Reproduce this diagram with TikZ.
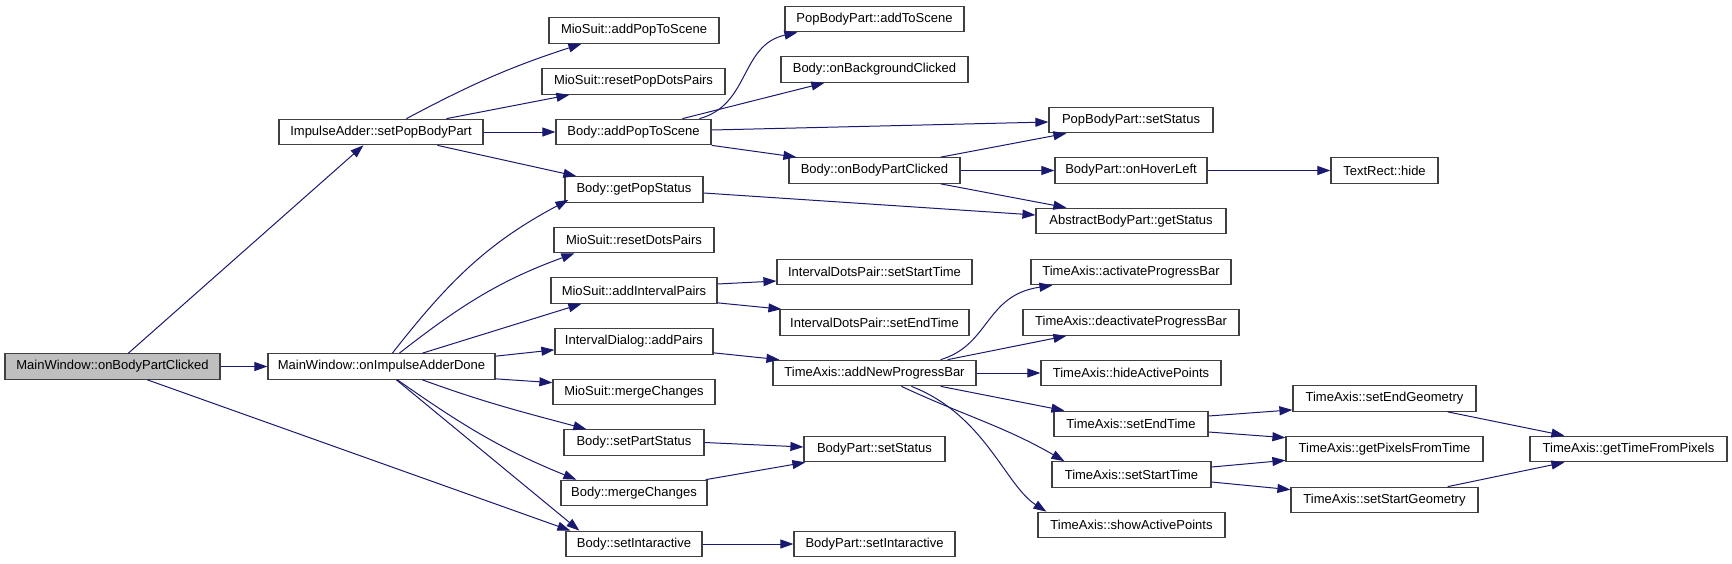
\documentclass[tikz,border=0pt]{standalone}
\usepackage{fontspec}
\setmainfont{Liberation Sans}
\usepackage{tikz}
\usetikzlibrary{arrows.meta}
\definecolor{edgeblue}{HTML}{191970}
\definecolor{boxgrey}{HTML}{BFBFBF}
\definecolor{boxline}{HTML}{404040}
\tikzset{
    fnbox/.style={rectangle, draw=boxline, line width=1.2pt, fill=white, minimum height=25.5pt, inner sep=0pt, text centered, font=\fontsize{13}{15}\selectfont},
    rootbox/.style={fnbox, fill=boxgrey},
    callarrow/.style={line width=1pt, color=edgeblue, -{Triangle[length=13pt,width=9pt]}}
}

\begin{document}
\begin{tikzpicture}[x=1pt, y=1pt]
    \useasboundingbox (0,0) rectangle (1732,-563);

    % caller and first level
    \node[rootbox, minimum width=215pt] (mwClicked) at (112.5,-366.5) {MainWindow::onBodyPartClicked};
    \node[fnbox, minimum width=204pt] (setPop) at (381,-132) {ImpulseAdder::setPopBodyPart};
    \node[fnbox, minimum width=227pt] (adderDone) at (381.5,-366.5) {MainWindow::onImpulseAdderDone};

    % second column
    \node[fnbox, minimum width=170pt] (msAddPop) at (634,-30.5) {MioSuit::addPopToScene};
    \node[fnbox, minimum width=183pt] (msResetPop) at (633.5,-81.5) {MioSuit::resetPopDotsPairs};
    \node[fnbox, minimum width=155pt] (bAddPop) at (633.5,-132) {Body::addPopToScene};
    \node[fnbox, minimum width=138pt] (bGetPop) at (634,-189.5) {Body::getPopStatus};
    \node[fnbox, minimum width=160pt] (msResetDots) at (634,-240) {MioSuit::resetDotsPairs};
    \node[fnbox, minimum width=166pt] (msAddInt) at (634,-290.5) {MioSuit::addIntervalPairs};
    \node[fnbox, minimum width=158pt] (idAdd) at (634,-341.5) {IntervalDialog::addPairs};
    \node[fnbox, minimum width=162pt] (msMerge) at (634,-392) {MioSuit::mergeChanges};
    \node[fnbox, minimum width=140pt] (bSetPart) at (634,-442.5) {Body::setPartStatus};
    \node[fnbox, minimum width=146pt] (bMerge) at (634,-493) {Body::mergeChanges};
    \node[fnbox, minimum width=136pt] (bSetInt) at (634,-544) {Body::setIntaractive};

    % third column
    \node[fnbox, minimum width=179pt] (pbAddScene) at (874.5,-19) {PopBodyPart::addToScene};
    \node[fnbox, minimum width=187pt] (bBgClicked) at (874.5,-69.5) {Body::onBackgroundClicked};
    \node[fnbox, minimum width=171pt] (bBpClicked) at (874.5,-170.5) {Body::onBodyPartClicked};
    \node[fnbox, minimum width=195pt] (idpStart) at (874.5,-272) {IntervalDotsPair::setStartTime};
    \node[fnbox, minimum width=189pt] (idpEnd) at (874.5,-322.5) {IntervalDotsPair::setEndTime};
    \node[fnbox, minimum width=203pt] (taAddBar) at (874.5,-373) {TimeAxis::addNewProgressBar};
    \node[fnbox, minimum width=141pt] (bpSetStatus) at (874.5,-449) {BodyPart::setStatus};
    \node[fnbox, minimum width=161pt] (bpSetInt) at (874.5,-544) {BodyPart::setIntaractive};

    % fourth column
    \node[fnbox, minimum width=164pt] (pbpSetStatus) at (1131,-120) {PopBodyPart::setStatus};
    \node[fnbox, minimum width=152pt] (bpHover) at (1131,-170.5) {BodyPart::onHoverLeft};
    \node[fnbox, minimum width=190pt] (abpGet) at (1131,-221) {AbstractBodyPart::getStatus};
    \node[fnbox, minimum width=200pt] (taActivate) at (1131,-272) {TimeAxis::activateProgressBar};
    \node[fnbox, minimum width=216pt] (taDeactivate) at (1131,-322.5) {TimeAxis::deactivateProgressBar};
    \node[fnbox, minimum width=180pt] (taHide) at (1131,-373) {TimeAxis::hideActivePoints};
    \node[fnbox, minimum width=154pt] (taSetEnd) at (1131,-424) {TimeAxis::setEndTime};
    \node[fnbox, minimum width=159pt] (taSetStart) at (1131.5,-474.5) {TimeAxis::setStartTime};
    \node[fnbox, minimum width=187pt] (taShow) at (1131.5,-525) {TimeAxis::showActivePoints};

    % fifth and sixth column
    \node[fnbox, minimum width=107pt] (trHide) at (1384.5,-170.5) {TextRect::hide};
    \node[fnbox, minimum width=183pt] (taEndGeo) at (1384.5,-398.5) {TimeAxis::setEndGeometry};
    \node[fnbox, minimum width=197pt] (taPix) at (1384.5,-449) {TimeAxis::getPixelsFromTime};
    \node[fnbox, minimum width=187pt] (taStartGeo) at (1384.5,-500) {TimeAxis::setStartGeometry};
    \node[fnbox, minimum width=197pt] (taTime) at (1628.5,-449) {TimeAxis::getTimeFromPixels};

    % calls from the root
    \draw[callarrow] ([xshift=124pt]mwClicked.north west) -- ([xshift=85pt]setPop.south west);
    \draw[callarrow] (mwClicked.east) -- (adderDone.west);
    \draw[callarrow] ([xshift=143pt]mwClicked.south west) -- ([xshift=5pt]bSetInt.north west);

    % ImpulseAdder::setPopBodyPart
    \draw[callarrow] ([xshift=128pt]setPop.north west) to[out=28, in=198] ([xshift=33pt]msAddPop.south west);
    \draw[callarrow] ([xshift=168pt]setPop.north west) -- ([xshift=28pt]msResetPop.south west);
    \draw[callarrow] (setPop.east) -- (bAddPop.west);
    \draw[callarrow] ([xshift=159pt]setPop.south west) -- ([xshift=12pt]bGetPop.north west);

    % MainWindow::onImpulseAdderDone
    \draw[callarrow] ([xshift=125pt]adderDone.north west) to[out=52, in=208] ([xshift=4pt, yshift=3pt]bGetPop.south west);
    \draw[callarrow] ([xshift=132pt]adderDone.north west) to[out=38, in=200] ([xshift=21pt]msResetDots.south west);
    \draw[callarrow] ([xshift=155pt]adderDone.north west) -- ([xshift=31pt]msAddInt.south west);
    \draw[callarrow] ([yshift=-3pt]adderDone.north east) -- ([yshift=5pt]idAdd.south west);
    \draw[callarrow] ([yshift=1pt]adderDone.south east) -- ([yshift=-4pt]msMerge.north west);
    \draw[callarrow] ([xshift=155pt]adderDone.south west) to[out=-20, in=165] ([xshift=23pt]bSetPart.north west);
    \draw[callarrow] ([xshift=130pt]adderDone.south west) to[out=-35, in=158] ([xshift=16pt]bMerge.north west);
    \draw[callarrow] ([xshift=129pt]adderDone.south west) -- ([xshift=14pt]bSetInt.north west);

    % Body::addPopToScene
    \draw[callarrow] ([xshift=144pt]bAddPop.north west) .. controls (750,-105) and (740,-45) .. ([xshift=13pt]pbAddScene.south west);
    \draw[callarrow] ([xshift=127pt]bAddPop.north west) -- ([xshift=44pt]bBgClicked.south west);
    \draw[callarrow] ([yshift=2pt]bAddPop.east) -- ([yshift=-2pt]pbpSetStatus.west);
    \draw[callarrow] (bAddPop.south east) -- ([xshift=8pt]bBpClicked.north west);
    \draw[callarrow] ([yshift=-3.5pt]bGetPop.east) -- ([yshift=6pt]abpGet.west);

    % Body::onBodyPartClicked
    \draw[callarrow] ([xshift=-20pt]bBpClicked.north east) -- ([xshift=18pt]pbpSetStatus.south west);
    \draw[callarrow] (bBpClicked.east) -- (bpHover.west);
    \draw[callarrow] ([xshift=-20pt]bBpClicked.south east) -- ([xshift=31pt]abpGet.north west);
    \draw[callarrow] (bpHover.east) -- (trHide.west);

    % interval pairs
    \draw[callarrow] ([yshift=6.5pt]msAddInt.east) -- ([yshift=-9pt]idpStart.west);
    \draw[callarrow] ([yshift=1pt]msAddInt.south east) -- ([xshift=2pt]idpEnd.north west);
    \draw[callarrow] ([yshift=2pt]idAdd.south east) -- ([xshift=7pt]taAddBar.north west);

    % TimeAxis::addNewProgressBar
    \draw[callarrow] ([xshift=-36pt]taAddBar.north east) .. controls (990,-345) and (985,-295) .. ([xshift=22pt]taActivate.south west);
    \draw[callarrow] ([xshift=-29pt]taAddBar.north east) -- ([xshift=44pt]taDeactivate.south west);
    \draw[callarrow] (taAddBar.east) -- (taHide.west);
    \draw[callarrow] ([xshift=-36pt]taAddBar.south east) -- ([xshift=11pt]taSetEnd.north west);
    \draw[callarrow] ([xshift=129pt]taAddBar.south west) to[out=-25, in=150] ([xshift=13pt]taSetStart.north west);
    \draw[callarrow] ([xshift=139pt]taAddBar.south west) .. controls (985,-415) and (1005,-485) .. ([xshift=9pt]taShow.north west);

    % status setters
    \draw[callarrow] (bSetPart.east) -- ([yshift=2pt]bpSetStatus.west);
    \draw[callarrow] ([xshift=-2pt]bMerge.north east) -- ([xshift=2pt]bpSetStatus.south west);
    \draw[callarrow] (bSetInt.east) -- (bpSetInt.west);

    % geometry
    \draw[callarrow] ([yshift=8pt]taSetEnd.east) -- ([yshift=2pt]taEndGeo.south west);
    \draw[callarrow] ([yshift=-8pt]taSetEnd.east) -- ([yshift=-2pt]taPix.north west);
    \draw[callarrow] ([yshift=7.5pt]taSetStart.east) -- ([yshift=2pt]taPix.south west);
    \draw[callarrow] ([yshift=-7.5pt]taSetStart.east) -- ([yshift=-3pt]taStartGeo.north west);
    \draw[callarrow] ([xshift=-29pt]taEndGeo.south east) -- ([xshift=35pt]taTime.north west);
    \draw[callarrow] ([xshift=-31pt]taStartGeo.north east) -- ([xshift=35pt]taTime.south west);
\end{tikzpicture}
\end{document}
